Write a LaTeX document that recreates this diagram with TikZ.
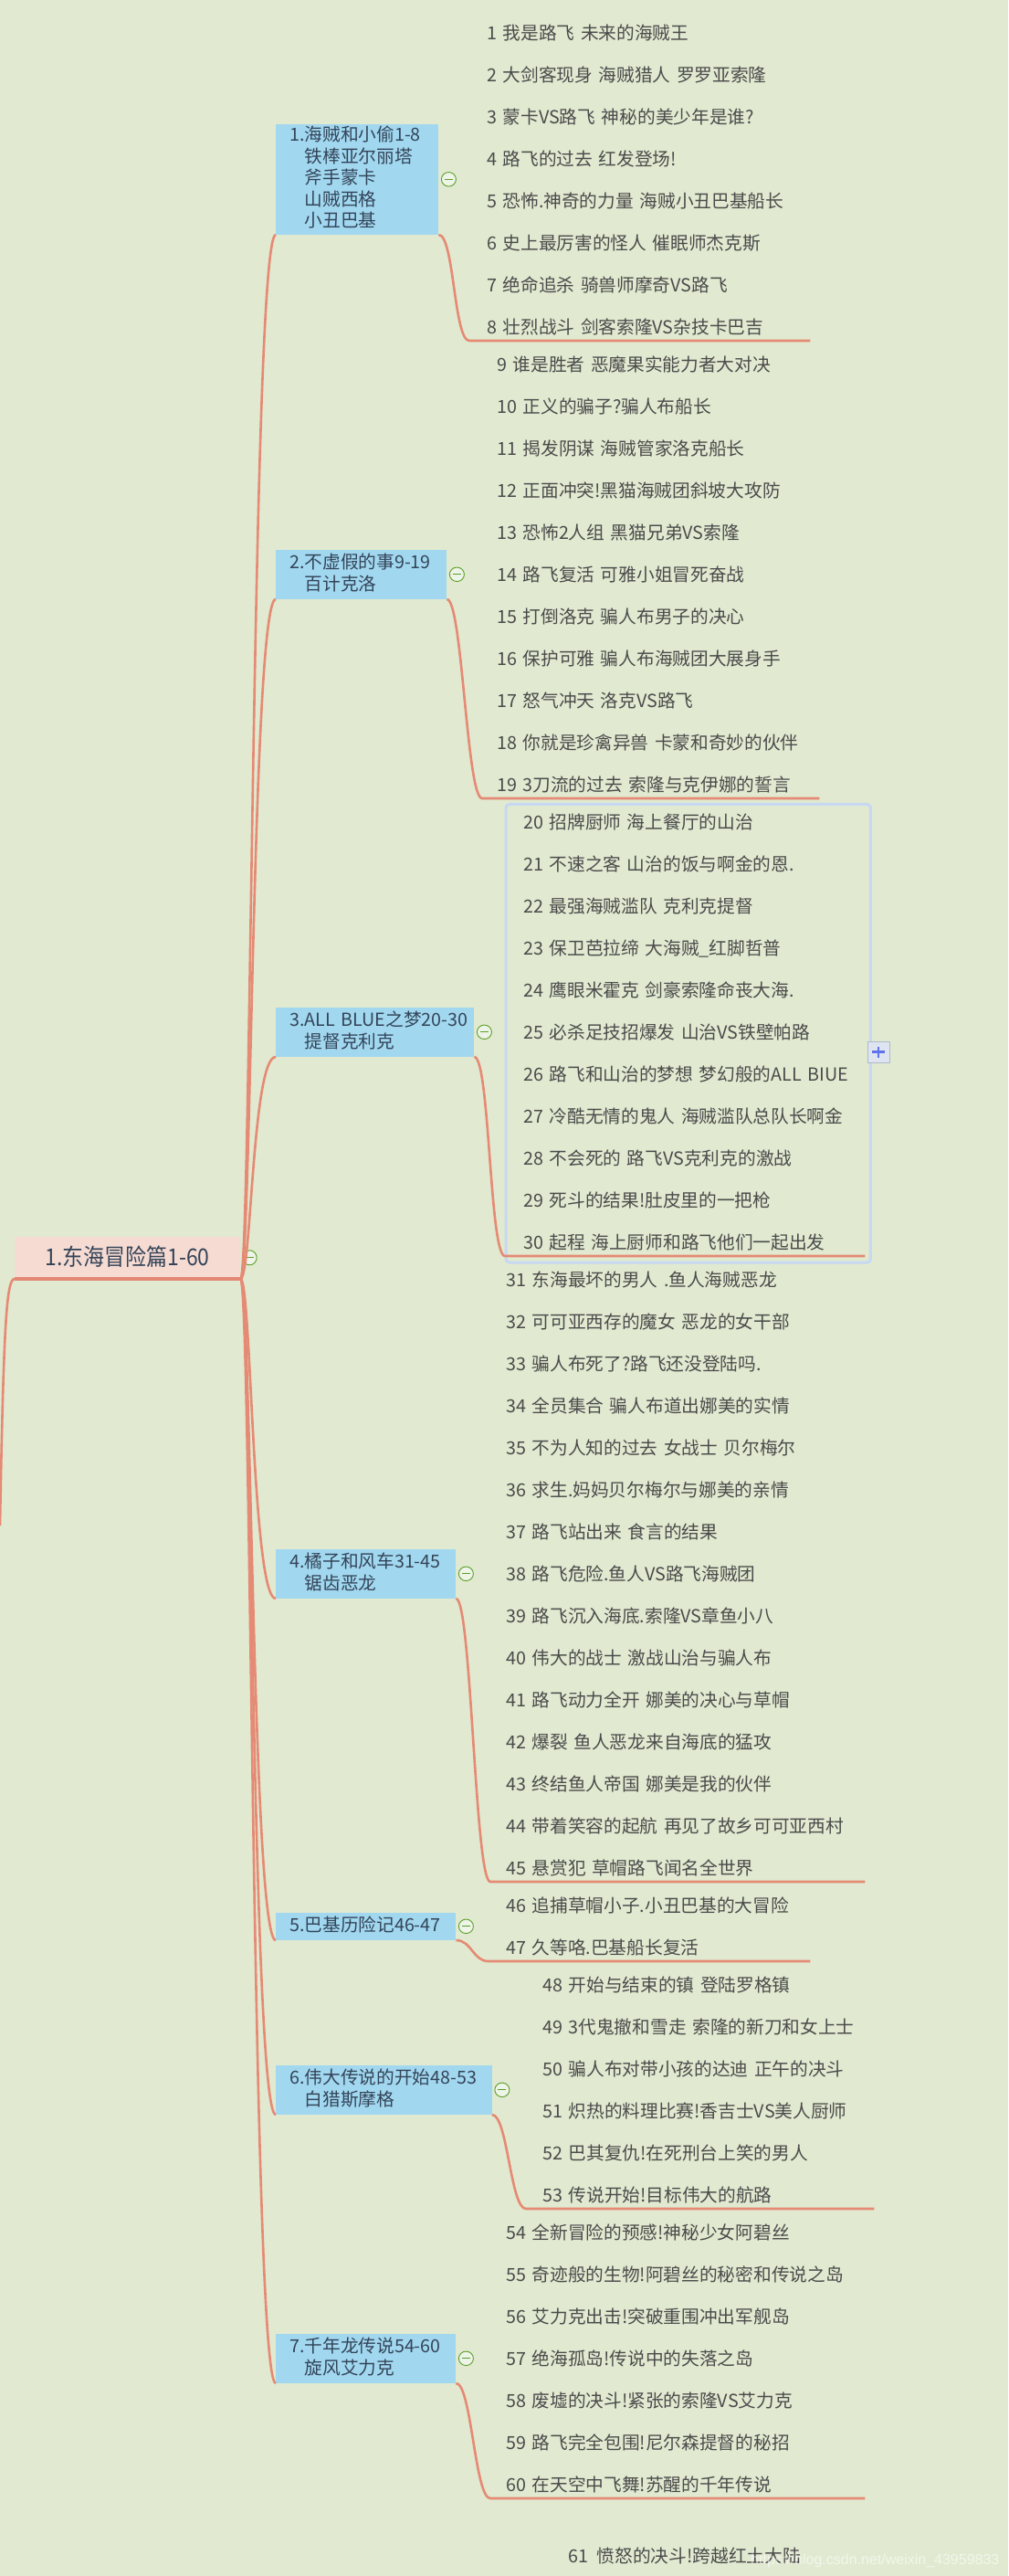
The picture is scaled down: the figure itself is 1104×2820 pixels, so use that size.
\documentclass[tikz,border=0pt]{standalone}
\usepackage{fontspec}
\usetikzlibrary{shapes.geometric}
\newfontfamily\cjkf[WordSpace=2.2]{Noto Sans CJK SC}
\newfontfamily\cjkr[FakeStretch=0.9]{Noto Sans CJK SC}
\newfontfamily\wmf{Liberation Sans}
\setlength{\parindent}{0pt}
\newcommand\sr{\rule[-5.5pt]{0pt}{20.5pt}}
\newcommand\Lx[1]{\sr\mbox{#1}}
\definecolor{bgc}{RGB}{225,233,208}
\definecolor{lnc}{RGB}{229,138,116}
\definecolor{rootf}{RGB}{246,219,211}
\definecolor{rootl}{RGB}{226,136,116}
\definecolor{brf}{RGB}{161,216,240}
\definecolor{brt}{RGB}{52,68,88}
\definecolor{lft}{RGB}{75,75,75}
\definecolor{mgr}{RGB}{90,160,40}
\definecolor{mfl}{RGB}{238,244,232}
\definecolor{selc}{RGB}{198,216,242}
\definecolor{plf}{RGB}{222,228,240}
\definecolor{pld}{RGB}{175,185,205}
\definecolor{plc}{RGB}{95,115,235}
\begin{document}
\begin{tikzpicture}[x=1pt,y=-1pt,
  conn/.style={draw=lnc, line width=2.6pt},
  rootbox/.style={fill=rootf, text=brt, font=\cjkr\fontsize{25.5}{28}\selectfont, inner sep=0pt, anchor=south west, minimum width=247pt, minimum height=46pt},
  br/.style={fill=brf, text=brt, font=\cjkf\fontsize{19.7}{23.5}\selectfont, align=left, inner xsep=15pt, inner ysep=0pt, anchor=south west},
  tp/.style={text=lft, font=\cjkf\fontsize{19.7}{46}\selectfont, align=left, inner ysep=2pt, anchor=south west},
  minus/.style={ellipse, draw=mgr, fill=mfl, line width=0.9pt, minimum width=16pt, minimum height=15.5pt, inner sep=0pt,
    path picture={\draw[mgr, line width=1.3pt] ([xshift=-4.5pt]path picture bounding box.center) -- ([xshift=4.5pt]path picture bounding box.center);}},
  plusb/.style={rectangle, draw=pld, fill=plf, line width=0.8pt, minimum width=24pt, minimum height=23pt, inner sep=0pt,
    path picture={\draw[plc, line width=2.4pt] ([xshift=-7pt]path picture bounding box.center) -- ([xshift=7pt]path picture bounding box.center)
      ([yshift=-6pt]path picture bounding box.center) -- ([yshift=6pt]path picture bounding box.center);}},
  selb/.style={draw=selc, line width=3pt, rounded corners=4pt},
  wm/.style={text=white, opacity=0.6, font=\wmf\fontsize{16}{18}\selectfont, inner sep=0pt, anchor=base west}
]
\fill[bgc] (0,0) rectangle (1104,2820);
\useasboundingbox (0,0) rectangle (1104,2820);

% root
\node[rootbox] (root) at (16,1400) {\rule[-5pt]{0pt}{24pt}1.东海冒险篇1-60};
\node[minus, minimum width=15.5pt, minimum height=16pt] (m0) at ([xshift=10pt]root.east) {};
\coordinate (lft) at (0,1670);

% branches
\node[br, text width=148pt, minimum height=121pt] (b1) at (302,257)
  {\Lx{1.海贼和小偷1-8}\\\Lx{\phantom{1.}铁棒亚尔丽塔}\\\Lx{\phantom{1.}斧手蒙卡}\\\Lx{\phantom{1.}山贼西格}\\\Lx{\phantom{1.}小丑巴基}};
\node[br, text width=157pt, minimum height=54pt] (b2) at (302,656)
  {\Lx{2.不虚假的事9-19}\\\Lx{\phantom{2.}百计克洛}};
\node[br, text width=187pt, minimum height=54pt] (b3) at (302,1157)
  {\Lx{3.ALL BLUE之梦20-30}\\\Lx{\phantom{3.}提督克利克}};
\node[br, text width=167pt, minimum height=54pt] (b4) at (302,1750)
  {\Lx{4.橘子和风车31-45}\\\Lx{\phantom{4.}锯齿恶龙}};
\node[br, text width=167pt, minimum height=30pt] (b5) at (302,2124)
  {\Lx{5.巴基历险记46-47}};
\node[br, text width=206.5pt, minimum height=54pt] (b6) at (302,2315)
  {\Lx{6.伟大传说的开始48-53}\\\Lx{\phantom{6.}白猎斯摩格}};
\node[br, text width=167pt, minimum height=54pt] (b7) at (302,2609)
  {\Lx{7.千年龙传说54-60}\\\Lx{\phantom{7.}旋风艾力克}};

\foreach \b in {1,...,7} \node[minus] (m\b) at ([xshift=11pt]b\b.east) {};

% topics
\node[tp, inner xsep=19pt, text width=335pt] (t1) at (514,373) {%
\Lx{1 我是路飞 未来的海贼王}\\
\Lx{2 大剑客现身 海贼猎人 罗罗亚索隆}\\
\Lx{3 蒙卡VS路飞 神秘的美少年是谁?}\\
\Lx{4 路飞的过去 红发登场!}\\
\Lx{5 恐怖.神奇的力量 海贼小丑巴基船长}\\
\Lx{6 史上最厉害的怪人 催眠师杰克斯}\\
\Lx{7 绝命追杀 骑兽师摩奇VS路飞}\\
\Lx{8 壮烈战斗 剑客索隆VS杂技卡巴吉}};
\node[tp, inner xsep=16pt, text width=337pt] (t2) at (528,874) {%
\Lx{9 谁是胜者 恶魔果实能力者大对决}\\
\Lx{10 正义的骗子?骗人布船长}\\
\Lx{11 揭发阴谋 海贼管家洛克船长}\\
\Lx{12 正面冲突!黑猫海贼团斜坡大攻防}\\
\Lx{13 恐怖2人组 黑猫兄弟VS索隆}\\
\Lx{14 路飞复活 可雅小姐冒死奋战}\\
\Lx{15 打倒洛克 骗人布男子的决心}\\
\Lx{16 保护可雅 骗人布海贼团大展身手}\\
\Lx{17 怒气冲天 洛克VS路飞}\\
\Lx{18 你就是珍禽异兽 卡蒙和奇妙的伙伴}\\
\Lx{19 3刀流的过去 索隆与克伊娜的誓言}};
\node[tp, inner xsep=20pt, text width=354pt] (t3) at (553,1375) {%
\Lx{20 招牌厨师 海上餐厅的山治}\\
\Lx{21 不速之客 山治的饭与啊金的恩.}\\
\Lx{22 最强海贼滥队 克利克提督}\\
\Lx{23 保卫芭拉缔 大海贼\_红脚哲普}\\
\Lx{24 鹰眼米霍克 剑豪索隆命丧大海.}\\
\Lx{25 必杀足技招爆发 山治VS铁壁帕路}\\
\Lx{26 路飞和山治的梦想 梦幻般的ALL BIUE}\\
\Lx{27 冷酷无情的鬼人 海贼滥队总队长啊金}\\
\Lx{28 不会死的 路飞VS克利克的激战}\\
\Lx{29 死斗的结果!肚皮里的一把枪}\\
\Lx{30 起程 海上厨师和路飞他们一起出发}};
\node[tp, inner xsep=17pt, text width=376pt] (t4) at (537,2060) {%
\Lx{31 东海最坏的男人 .鱼人海贼恶龙}\\
\Lx{32 可可亚西存的魔女 恶龙的女干部}\\
\Lx{33 骗人布死了?路飞还没登陆吗.}\\
\Lx{34 全员集合 骗人布道出娜美的实情}\\
\Lx{35 不为人知的过去 女战士 贝尔梅尔}\\
\Lx{36 求生.妈妈贝尔梅尔与娜美的亲情}\\
\Lx{37 路飞站出来 食言的结果}\\
\Lx{38 路飞危险.鱼人VS路飞海贼团}\\
\Lx{39 路飞沉入海底.索隆VS章鱼小八}\\
\Lx{40 伟大的战士 激战山治与骗人布}\\
\Lx{41 路飞动力全开 娜美的决心与草帽}\\
\Lx{42 爆裂 鱼人恶龙来自海底的猛攻}\\
\Lx{43 终结鱼人帝国 娜美是我的伙伴}\\
\Lx{44 带着笑容的起航 再见了故乡可可亚西村}\\
\Lx{45 悬赏犯 草帽路飞闻名全世界}};
\node[tp, inner xsep=19pt, text width=314pt] (t5) at (535,2147) {%
\Lx{46 追捕草帽小子.小丑巴基的大冒险}\\
\Lx{47 久等咯.巴基船长复活}};
\node[tp, inner xsep=18pt, text width=345pt] (t6) at (576,2418) {%
\Lx{48 开始与结束的镇 登陆罗格镇}\\
\Lx{49 3代鬼撤和雪走 索隆的新刀和女上士}\\
\Lx{50 骗人布对带小孩的达迪 正午的决斗}\\
\Lx{51 炽热的料理比赛!香吉士VS美人厨师}\\
\Lx{52 巴其复仇!在死刑台上笑的男人}\\
\Lx{53 传说开始!目标伟大的航路}};
\node[tp, inner xsep=17pt, text width=376pt] (t7) at (537,2735) {%
\Lx{54 全新冒险的预感!神秘少女阿碧丝}\\
\Lx{55 奇迹般的生物!阿碧丝的秘密和传说之岛}\\
\Lx{56 艾力克出击!突破重围冲出军舰岛}\\
\Lx{57 绝海孤岛!传说中的失落之岛}\\
\Lx{58 废墟的决斗!紧张的索隆VS艾力克}\\
\Lx{59 路飞完全包围!尼尔森提督的秘招}\\
\Lx{60 在天空中飞舞!苏醒的千年传说}};

\node[tp, anchor=west, inner sep=0pt] (t61) at (622,2800) {\Lx{61 愤怒的决斗!跨越红土大陆}};

% selection and collapsed marker
\draw[selb] ([shift={(1,-8)}]t3.north west) rectangle ([shift={(6,7)}]t3.south east);
\node[plusb] (pl) at (962,1151.5) {};

% connectors
\draw[conn] (root.south west) .. controls +(-9,0) and +(4,-220) .. (lft);
\foreach \b in {1,...,7} {
  \draw[conn] (root.south east) .. controls +(12,0) and +(-26,0) .. (b\b.south west);
  \draw[conn] (b\b.south east) .. controls +(17,0) and +(-17,0) .. (t\b.south west) -- (t\b.south east);
}
\draw[draw=rootl, line width=4.5pt] (root.south west) -- (root.south east);

\node[wm] (wmk) at (822,2807) {https://blog.csdn.net/weixin\_43959833};
\end{tikzpicture}
\end{document}
